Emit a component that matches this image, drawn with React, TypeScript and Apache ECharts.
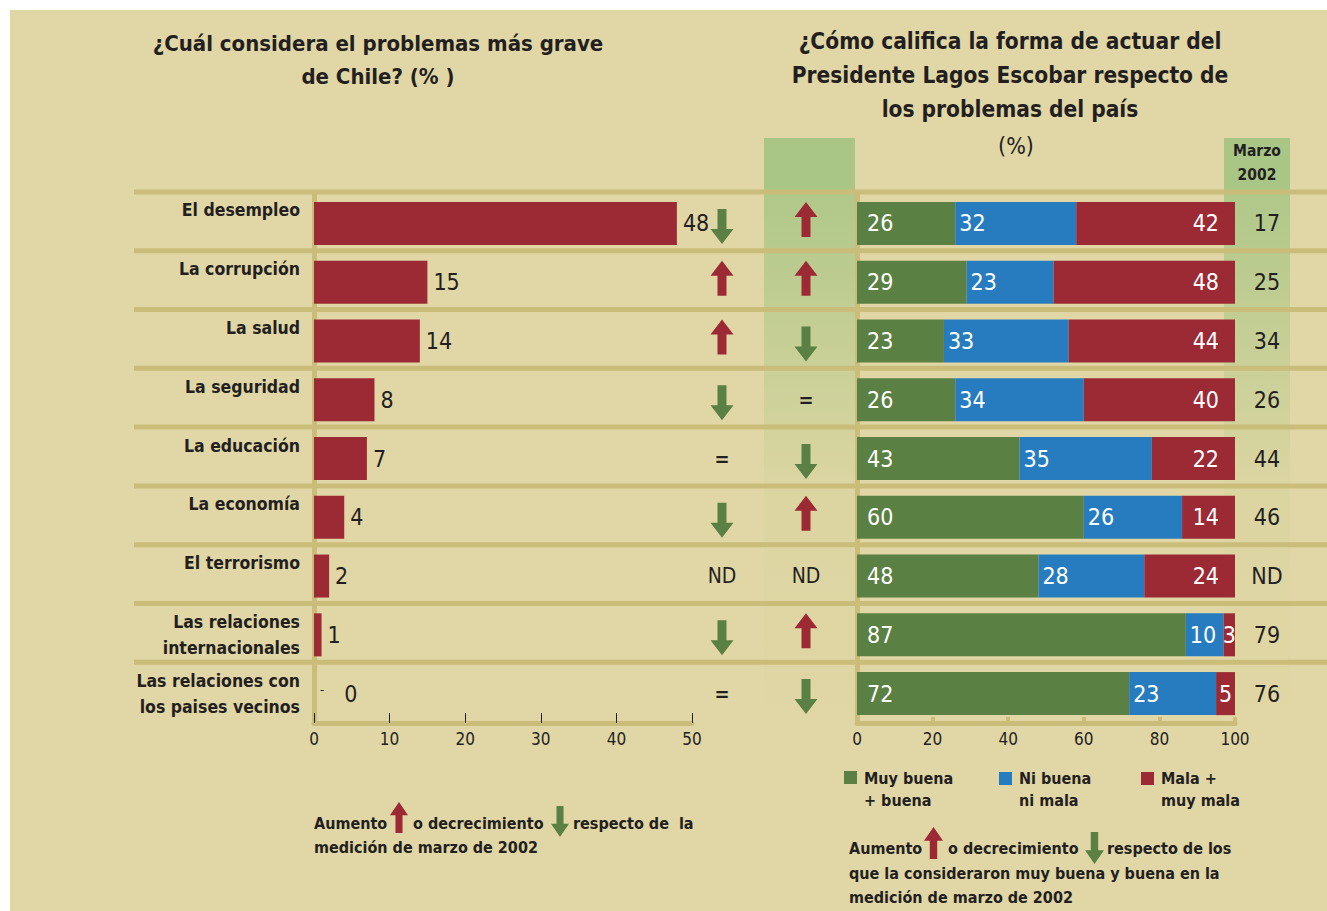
import { useEffect, useRef } from "react";
import * as echarts from "echarts";

// ---------- data ----------
const categories = [
  "El desempleo",
  "La corrupción",
  "La salud",
  "La seguridad",
  "La educación",
  "La economía",
  "El terrorismo",
  "Las relaciones\ninternacionales",
  "Las relaciones con\nlos paises vecinos",
];
const problemValues = [48, 15, 14, 8, 7, 4, 2, 1, 0];
// change vs. March 2002 (left column: problem share; middle: "muy buena + buena")
const trendProblem = ["down", "up", "up", "down", "eq", "down", "nd", "down", "eq"];
const trendGood = ["up", "up", "down", "eq", "down", "up", "nd", "up", "down"];
const muyBuena = [26, 29, 23, 26, 43, 60, 48, 87, 72];
const niBuena = [32, 23, 33, 34, 35, 26, 28, 10, 23];
const mala = [42, 48, 44, 40, 22, 14, 24, 3, 5];
const marzo2002 = ["17", "25", "34", "26", "44", "46", "ND", "79", "76"];
const trendColumns = ["problema", "calificación"];
const seriesNames = ["Muy buena\n+ buena", "Ni buena\nni mala", "Mala +\nmuy mala"];

// ---------- style ----------
const FONT = "'Liberation Sans Narrow', 'Arial Narrow', 'DejaVu Sans Condensed', sans-serif";
const DARK = "#231f20";
const BG = "#e1d6a5";
const LINE = "#cabd7a";
const RED = "#9c2a34";
const GREEN = "#5b8043";
const BLUE = "#267cbe";
const COLGREEN = "#a9c686";

const UP_PATH = "M11.5,0L23,15L16,15L16,35L7,35L7,15L0,15Z";
const DOWN_PATH = "M7,0L16,0L16,20L23,20L11.5,35L0,20L7,20Z";
echarts.graphic.registerShape("flechaArriba", echarts.graphic.extendPath(UP_PATH, {}));
echarts.graphic.registerShape("flechaAbajo", echarts.graphic.extendPath(DOWN_PATH, {}));

const GRID_TOP = 194;
const GRID_H = 529;

const txt = (
  text: string,
  x: number,
  y: number,
  size: number,
  weight = "bold",
  align = "left",
  color = DARK
) => ({
  type: "text",
  x,
  y,
  z: 10,
  silent: true,
  style: {
    text,
    fill: color,
    font: `${weight} ${size}px ${FONT}`,
    textAlign: align,
    textVerticalAlign: "middle",
  },
});

const arrowG = (up: boolean, x: number, y: number, w: number, h: number) => ({
  type: up ? "flechaArriba" : "flechaAbajo",
  x,
  y,
  z: 10,
  scaleX: w / 23,
  scaleY: h / 35,
  style: { fill: up ? RED : GREEN },
});

function buildOption() {
  const trendCols = [trendProblem, trendGood];
  const pts = (kind: string) => {
    const out: any[] = [];
    trendCols.forEach((col, c) =>
      col.forEach((k, r) => {
        if (k === kind) out.push([c, r]);
      })
    );
    return out;
  };
  const textPts: any[] = [];
  trendCols.forEach((col, c) =>
    col.forEach((k, r) => {
      if (k === "eq") textPts.push({ value: [c, r], name: "=", label: { fontWeight: "bold", fontSize: 20 } });
      if (k === "nd") textPts.push({ value: [c, r], name: "ND" });
    })
  );

  const hiddenCat = (gridIndex: number) => ({
    type: "category",
    gridIndex,
    data: categories,
    inverse: true,
    show: false,
  });

  const colGradient = {
    type: "linear",
    x: 0,
    y: 0,
    x2: 0,
    y2: 1,
    colorStops: [
      { offset: 0, color: "#b0c88a" },
      { offset: 0.55, color: "#dbd5a2" },
      { offset: 1, color: BG },
    ],
  };

  const stackLabel = (pos: string, dist: number) => ({
    show: true,
    position: pos,
    distance: dist,
    color: "#ffffff",
    fontSize: 23,
    fontFamily: FONT,
  });

  return {
    animation: false,
    backgroundColor: "#ffffff",
    textStyle: { fontFamily: FONT },
    grid: [
      { left: 314, top: GRID_TOP, width: 378, height: GRID_H, containLabel: false, outerBoundsMode: "none" },
      { left: 857, top: GRID_TOP, width: 378, height: GRID_H, containLabel: false, outerBoundsMode: "none" },
      { left: 680, top: GRID_TOP, width: 168, height: GRID_H, containLabel: false, outerBoundsMode: "none" },
      { left: 1240, top: GRID_TOP, width: 54, height: GRID_H, containLabel: false, outerBoundsMode: "none" },
      { left: 134, top: GRID_TOP, width: 1193, height: GRID_H, containLabel: false, outerBoundsMode: "none" },
    ],
    xAxis: [
      {
        type: "value",
        gridIndex: 0,
        min: 0,
        max: 50,
        interval: 10,
        axisLine: { show: true, lineStyle: { color: LINE, width: 5 } },
        axisTick: { show: true, inside: true, length: 10, lineStyle: { color: DARK, width: 1 } },
        axisLabel: { color: DARK, fontSize: 17, margin: 7, fontFamily: FONT },
        splitLine: { show: false },
      },
      {
        type: "value",
        gridIndex: 1,
        min: 0,
        max: 100,
        interval: 20,
        axisLine: { show: true, lineStyle: { color: LINE, width: 5 } },
        axisTick: { show: true, inside: true, length: 6, lineStyle: { color: LINE, width: 4 } },
        axisLabel: { color: DARK, fontSize: 17, margin: 7, fontFamily: FONT },
        splitLine: { show: false },
      },
      { type: "category", gridIndex: 2, data: trendColumns, show: false },
      { type: "category", gridIndex: 3, data: ["Marzo 2002"], show: false },
      { type: "value", gridIndex: 4, min: 0, max: 1, show: false },
    ],
    yAxis: [
      {
        type: "category",
        gridIndex: 0,
        data: categories,
        inverse: true,
        axisLine: { show: true, lineStyle: { color: LINE, width: 5 } },
        axisTick: { show: false },
        axisLabel: {
          color: DARK,
          fontSize: 17.5,
          fontWeight: "bold",
          fontFamily: FONT,
          lineHeight: 26,
          interval: 0,
          align: "right",
          margin: 14,
          formatter: (v: string) => (v.indexOf("\n") >= 0 ? v : v + "\n "),
        },
        splitLine: { show: false },
      },
      {
        type: "category",
        gridIndex: 1,
        data: categories,
        inverse: true,
        axisLine: { show: true, lineStyle: { color: LINE, width: 5 } },
        axisTick: { show: false },
        axisLabel: { show: false },
        splitLine: { show: false },
      },
      hiddenCat(2),
      hiddenCat(3),
      hiddenCat(4),
    ],
    graphic: [
      { type: "rect", z: -20, silent: true, shape: { x: 10, y: 10, width: 1317, height: 901 }, style: { fill: BG } },
      { type: "rect", z: -10, silent: true, shape: { x: 764, y: 138, width: 91, height: 56 }, style: { fill: COLGREEN } },
      { type: "rect", z: -10, silent: true, shape: { x: 764, y: 194, width: 91, height: 529 }, style: { fill: colGradient } },
      { type: "rect", z: -10, silent: true, shape: { x: 1224, y: 138, width: 66, height: 56 }, style: { fill: COLGREEN } },
      { type: "rect", z: -10, silent: true, shape: { x: 1224, y: 194, width: 66, height: 529 }, style: { fill: colGradient } },

      txt("¿Cuál considera el problemas más grave", 378, 43, 22, "bold", "center"),
      txt("de Chile? (% )", 378, 76, 22, "bold", "center"),
      txt("¿Cómo califica la forma de actuar del", 1010, 41, 22.5, "bold", "center"),
      txt("Presidente Lagos Escobar respecto de", 1010, 75, 22.5, "bold", "center"),
      txt("los problemas del país", 1010, 109, 22.5, "bold", "center"),
      txt("(%)", 1016, 146, 23, "normal", "center"),
      txt("Marzo", 1257, 151, 15.5, "bold", "center"),
      txt("2002", 1257, 175, 15.5, "bold", "center"),

      // legend
      { type: "rect", z: 10, silent: true, shape: { x: 844, y: 771, width: 13, height: 13 }, style: { fill: GREEN } },
      txt("Muy buena", 864, 778, 16),
      txt("+ buena", 864, 800, 16),
      { type: "rect", z: 10, silent: true, shape: { x: 999, y: 772, width: 13, height: 13 }, style: { fill: BLUE } },
      txt("Ni buena", 1019, 778, 16),
      txt("ni mala", 1019, 800, 16),
      { type: "rect", z: 10, silent: true, shape: { x: 1141, y: 772, width: 13, height: 13 }, style: { fill: RED } },
      txt("Mala +", 1161, 778, 16),
      txt("muy mala", 1161, 800, 16),

      // left note
      txt("Aumento", 314, 823, 16),
      arrowG(true, 390, 802, 18, 31),
      txt("o decrecimiento", 413, 823, 16),
      arrowG(false, 551, 806, 18, 31),
      txt("respecto de  la", 573, 823, 16),
      txt("medición de marzo de 2002", 314, 847, 16),

      // right note
      txt("Aumento", 849, 848, 16),
      arrowG(true, 924, 827, 19, 32),
      txt("o decrecimiento", 948, 848, 16),
      arrowG(false, 1085, 832, 19, 32),
      txt("respecto de los", 1107, 848, 16),
      txt("que la consideraron muy buena y buena en la", 849, 873, 16),
      txt("medición de marzo de 2002", 849, 897, 16),
    ],
    series: [
      {
        name: "Problema más grave",
        type: "bar",
        xAxisIndex: 0,
        yAxisIndex: 0,
        data: problemValues,
        barWidth: 43,
        itemStyle: { color: RED },
        z: 3,
        label: {
          show: true,
          position: "right",
          distance: 6,
          color: DARK,
          fontSize: 23,
          fontFamily: FONT,
          formatter: (p: any) => (p.value === 0 ? "{d|-}{g| }0" : String(p.value)),
          rich: {
            d: { fontSize: 13, color: DARK, padding: [0, 0, 8, 0] },
            g: { width: 20 },
          },
        },
      },
      {
        name: seriesNames[0],
        type: "bar",
        stack: "cal",
        xAxisIndex: 1,
        yAxisIndex: 1,
        barWidth: 43,
        z: 3,
        itemStyle: { color: GREEN },
        data: muyBuena,
        label: stackLabel("insideLeft", 10),
      },
      {
        name: seriesNames[1],
        type: "bar",
        stack: "cal",
        xAxisIndex: 1,
        yAxisIndex: 1,
        barWidth: 43,
        z: 3,
        itemStyle: { color: BLUE },
        data: niBuena,
        label: stackLabel("insideLeft", 4),
      },
      {
        name: seriesNames[2],
        type: "bar",
        stack: "cal",
        xAxisIndex: 1,
        yAxisIndex: 1,
        barWidth: 43,
        z: 3,
        itemStyle: { color: RED },
        data: mala.map((v) =>
          v < 10 ? { value: v, label: stackLabel("inside", 0) } : v
        ),
        label: stackLabel("insideRight", 16),
      },
      {
        name: "Aumento",
        type: "scatter",
        xAxisIndex: 2,
        yAxisIndex: 2,
        symbol: "path://" + UP_PATH,
        symbolSize: [23, 35],
        symbolOffset: [0, -4],
        itemStyle: { color: RED, opacity: 1 },
        data: pts("up"),
        z: 5,
      },
      {
        name: "Decrecimiento",
        type: "scatter",
        xAxisIndex: 2,
        yAxisIndex: 2,
        symbol: "path://" + DOWN_PATH,
        symbolSize: [23, 35],
        symbolOffset: [0, 3],
        itemStyle: { color: GREEN, opacity: 1 },
        data: pts("down"),
        z: 5,
      },
      {
        name: "Sin cambio",
        type: "scatter",
        xAxisIndex: 2,
        yAxisIndex: 2,
        symbolSize: 1,
        itemStyle: { color: "rgba(0,0,0,0)", opacity: 1 },
        data: textPts,
        z: 5,
        label: {
          show: true,
          position: "inside",
          formatter: "{b}",
          color: DARK,
          fontSize: 21,
          fontFamily: FONT,
        },
      },
      {
        name: "Marzo 2002",
        type: "scatter",
        xAxisIndex: 3,
        yAxisIndex: 3,
        symbolSize: 1,
        itemStyle: { color: "rgba(0,0,0,0)", opacity: 1 },
        data: marzo2002.map((v, i) => ({ value: [0, i], name: v })),
        z: 5,
        label: {
          show: true,
          position: "inside",
          formatter: "{b}",
          color: DARK,
          fontSize: 23,
          fontFamily: FONT,
        },
      },
      {
        name: "Separadores",
        type: "custom",
        xAxisIndex: 4,
        yAxisIndex: 4,
        silent: true,
        z: 1,
        encode: { x: 0, y: 1 },
        data: categories.map((_, i) => [0, i]),
        renderItem: (params: any, api: any) => {
          const c = api.coord([0, api.value(1)]);
          const h = api.size([0, 1])[1];
          const y = c[1] - h / 2 - 2;
          const cs = params.coordSys;
          return {
            type: "line",
            shape: { x1: cs.x, y1: y, x2: cs.x + cs.width, y2: y },
            style: { stroke: LINE, lineWidth: 5 },
          };
        },
      },
    ],
  };
}

export default function App() {
  const ref = useRef<HTMLDivElement>(null);
  useEffect(() => {
    document.body.style.margin = "0";
    if (!ref.current) return;
    const chart = echarts.init(ref.current, null, { renderer: "svg" });
    chart.setOption(buildOption() as any);
    return () => chart.dispose();
  }, []);
  return <div ref={ref} style={{ width: 1327, height: 911 }} />;
}
